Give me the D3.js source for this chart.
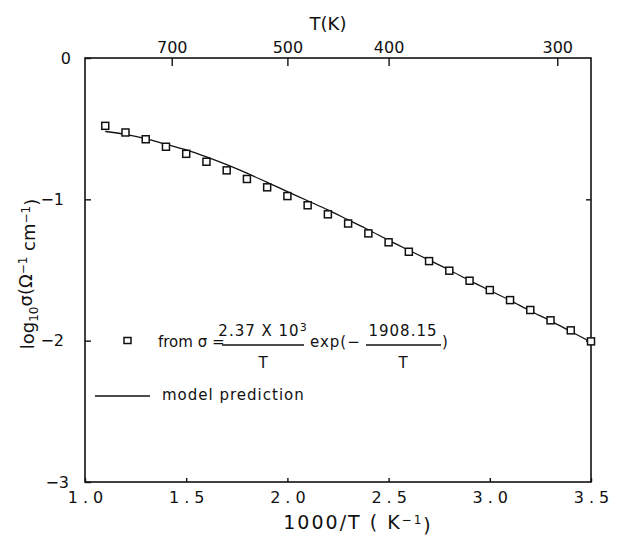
<!DOCTYPE html>
<html>
<head>
<meta charset="utf-8">
<script src="https://cdn.jsdelivr.net/npm/d3@7"></script>
<style>
body{margin:0;background:#fff;}
text{font-family:"DejaVu Sans",sans-serif;fill:#111;}
</style>
</head>
<body>
<svg id="graph" width="619" height="537"></svg>
<script>
// 1000/T positions of the data points
const invT = [1.1,1.2,1.3,1.4,1.5,1.6,1.7,1.8,1.9,2.0,2.1,2.2,2.3,2.4,2.5,2.6,2.7,2.8,2.9,3.0,3.1,3.2,3.3,3.4,3.5];
// log10 sigma
const fitVals = [-0.48,-0.527,-0.575,-0.628,-0.678,-0.734,-0.795,-0.856,-0.915,-0.977,-1.042,-1.106,-1.171,-1.241,-1.304,-1.371,-1.437,-1.505,-1.576,-1.642,-1.713,-1.783,-1.856,-1.927,-2.005];
// model prediction curve
const modelVals = [-0.52,-0.54,-0.57,-0.61,-0.65,-0.70,-0.755,-0.815,-0.88,-0.945,-1.01,-1.075,-1.145,-1.215,-1.29,-1.36,-1.43,-1.50,-1.575,-1.645,-1.715,-1.79,-1.86,-1.935,-2.01];
const xTicks = [1.0,1.5,2.0,2.5,3.0,3.5];
const yTicks = [0,-1,-2,-3];
const tTicks = [700,500,400,300];

var svg = d3.select("#graph");
var x = d3.scaleLinear().domain([1,3.5]).range([85,591]);
var y = d3.scaleLinear().domain([-3,0]).range([482,58]);

// frame
svg.append("rect")
	.attr("x",x(1)).attr("y",y(0))
	.attr("width",x(3.5)-x(1)).attr("height",y(-3)-y(0))
	.attr("fill","none").attr("stroke","#111").attr("stroke-width",1.6);

// bottom axis
var gb = svg.append("g").attr("transform","translate(0,"+y(-3)+")")
	.call(d3.axisBottom(x).tickValues(xTicks).tickSize(-4).tickPadding(10)
		.tickFormat(d3.format(".1f")));
// top axis (temperature)
var gt = svg.append("g").attr("transform","translate(0,"+y(0)+")")
	.call(d3.axisTop(x).tickValues(tTicks.map(function(t){return 1000/t;})).tickSize(-8).tickPadding(5)
		.tickFormat(function(d,i){return tTicks[i];}));
// left axis
var gl = svg.append("g").attr("transform","translate("+x(1)+",0)")
	.call(d3.axisLeft(y).tickValues(yTicks).tickSize(-6).tickPadding(14)
		.tickFormat(function(d){return d===0 ? "0" : "\u2212"+Math.abs(d);}));
// right axis, ticks only
var gr = svg.append("g").attr("transform","translate("+x(3.5)+",0)")
	.call(d3.axisRight(y).tickValues([-1,-2]).tickSize(-5).tickFormat(""));

[gb,gt,gl,gr].forEach(function(g){
	g.select(".domain").remove();
	g.selectAll(".tick line").attr("stroke","#111").attr("stroke-width",1.4);
	g.selectAll("text").style("font-family","DejaVu Sans").style("font-size","16px").attr("fill","#111");
});
gb.selectAll("text").style("letter-spacing","5px").attr("dx","2.5px");
gl.selectAll(".tick").filter(function(d){return d===-1 || d===-2;}).select("text").attr("x",-21);
gl.selectAll(".tick").filter(function(d){return d===-3;}).select("text").attr("x",-16);

// axis titles
svg.append("text").attr("x",328).attr("y",30).attr("text-anchor","middle")
	.style("font-size","18px").text("T(K)");
var xt = svg.append("text").attr("x",358).attr("y",529).attr("text-anchor","middle")
	.style("font-size","19px").style("letter-spacing","2px");
xt.append("tspan").text("1000/T ( K");
xt.append("tspan").attr("dy","-0.45em").style("font-size","12px").text("\u22121");
xt.append("tspan").attr("dy","0.45em").text(")");

var yt = svg.append("text").attr("transform","translate(34,274) rotate(-90)")
	.attr("text-anchor","middle").style("font-size","18px");
yt.append("tspan").text("log");
yt.append("tspan").attr("dy","0.3em").style("font-size","12px").text("10");
yt.append("tspan").attr("dy","-0.3em").text("\u03c3(\u03a9");
yt.append("tspan").attr("dy","-0.45em").style("font-size","12px").text("\u22121");
yt.append("tspan").attr("dy","0.45em").text(" cm");
yt.append("tspan").attr("dy","-0.45em").style("font-size","12px").text("\u22121");
yt.append("tspan").attr("dy","0.45em").text(")");

// model line
var line = d3.line().x(function(d,i){return x(invT[i]);}).y(function(d){return y(d);}).curve(d3.curveMonotoneX);
svg.append("path").datum(modelVals).attr("d",line)
	.attr("fill","none").attr("stroke","#111").attr("stroke-width",1.3);

// squares
svg.selectAll("rect.pt").data(fitVals).enter().append("rect").attr("class","pt")
	.attr("x",function(d,i){return x(invT[i])-3.5;})
	.attr("y",function(d){return y(d)-3.5;})
	.attr("width",7).attr("height",7)
	.attr("fill","#fff").attr("stroke","#111").attr("stroke-width",1.5);

// legend
var lg = svg.append("g").style("font-size","15px");
lg.append("rect").attr("x",124).attr("y",337.5).attr("width",7).attr("height",6)
	.attr("fill","#fff").attr("stroke","#111").attr("stroke-width",1.5);
lg.append("text").attr("x",158).attr("y",347).text("from \u03c3 =");
lg.append("text").attr("x",263).attr("y",336).attr("text-anchor","middle").style("letter-spacing","1px")
	.html("2.37 X 10<tspan dy='-0.5em' font-size='11px'>3</tspan>");
lg.append("line").attr("x1",222).attr("x2",304).attr("y1",345).attr("y2",345).attr("stroke","#111").attr("stroke-width",1.3);
lg.append("text").attr("x",263).attr("y",368).attr("text-anchor","middle").text("T");
lg.append("text").attr("x",310).attr("y",347).style("letter-spacing","1px").text("exp(\u2212");
lg.append("text").attr("x",403).attr("y",336).attr("text-anchor","middle").style("letter-spacing","1px").text("1908.15");
lg.append("line").attr("x1",366).attr("x2",441).attr("y1",345).attr("y2",345).attr("stroke","#111").attr("stroke-width",1.3);
lg.append("text").attr("x",403).attr("y",368).attr("text-anchor","middle").text("T");
lg.append("text").attr("x",442).attr("y",347).text(")");

lg.append("line").attr("x1",95).attr("x2",150).attr("y1",396).attr("y2",396).attr("stroke","#111").attr("stroke-width",1.3);
lg.append("text").attr("x",162).attr("y",400).style("letter-spacing","1px").text("model prediction");
</script>
</body>
</html>
